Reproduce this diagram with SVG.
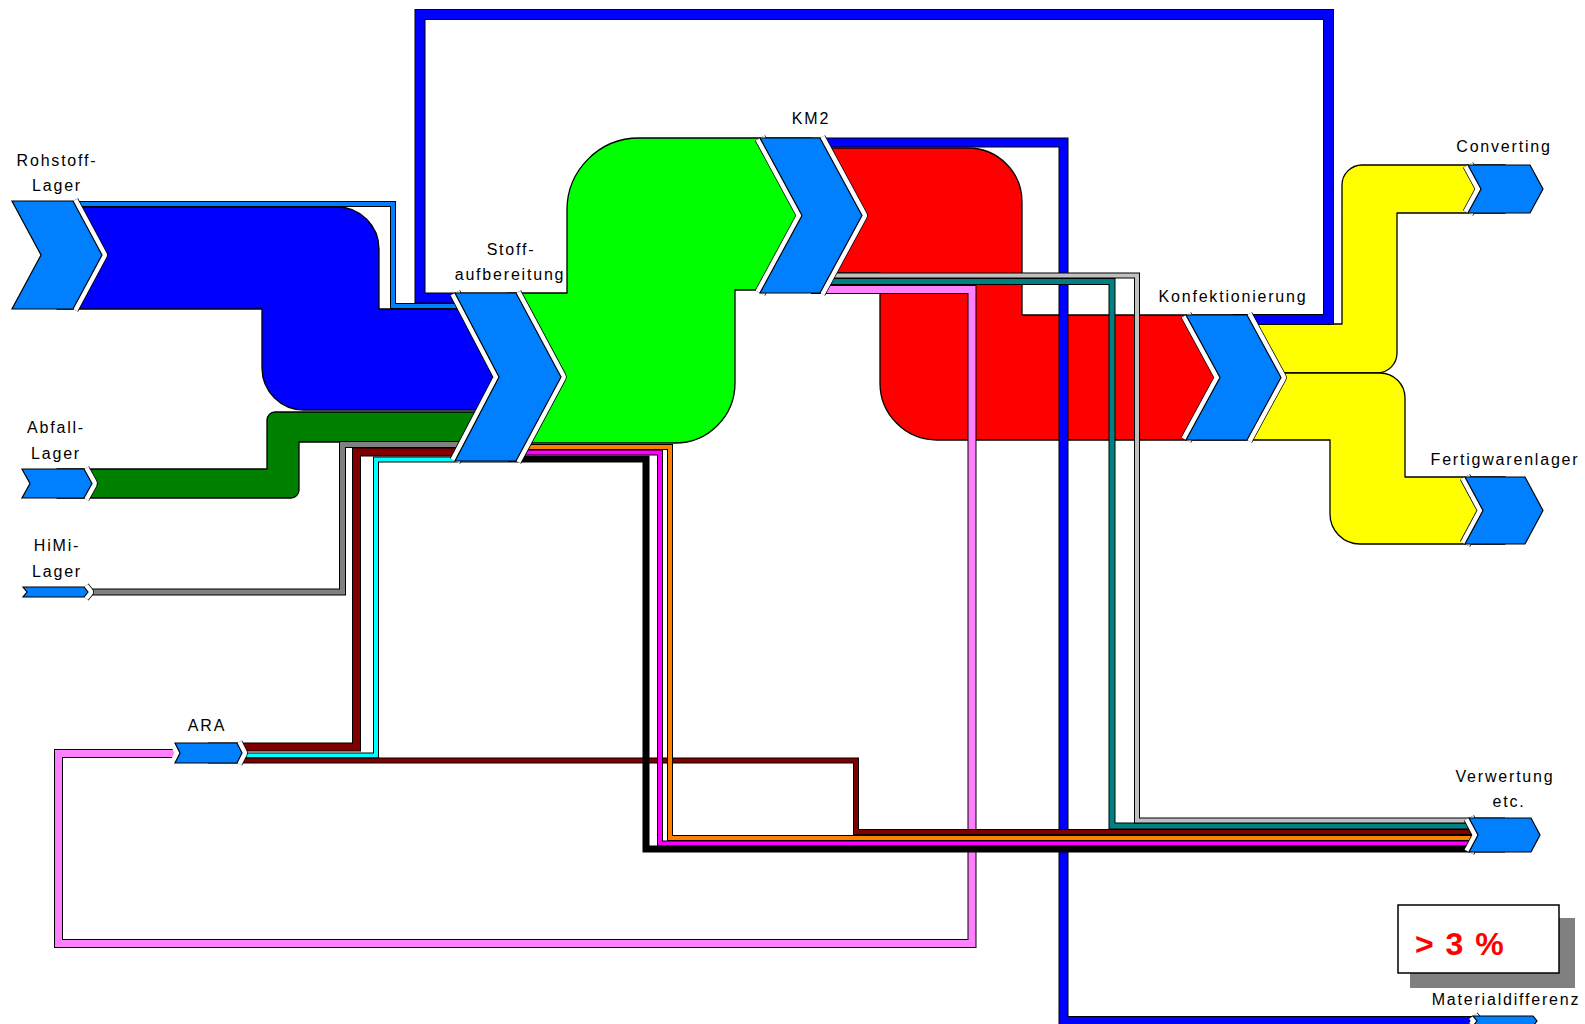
<svg xmlns="http://www.w3.org/2000/svg" xmlns:xlink="http://www.w3.org/1999/xlink" width="1585" height="1024" viewBox="0 0 1585 1024">
<style>
.flow{stroke:#000;stroke-width:1.3;stroke-linejoin:round}
.o{stroke:#000}
.gk{fill:none;stroke:#000;stroke-width:11.5;stroke-linejoin:round}
.gw{fill:none;stroke:#fff;stroke-width:10;stroke-linejoin:round}
.chev{fill:#0080FF;stroke:#000;stroke-width:1.2;stroke-linejoin:miter}
.lbl{font-family:"Liberation Sans",Arial,sans-serif;font-size:16px;letter-spacing:1.8px;fill:#000;text-anchor:middle}
</style>
<defs>
<path id="p-loop" fill="none" d="M1233,319.5 L1328.5,319.5 L1328.5,14.5 L420,14.5 L420,298 L508,298"/>
<path id="p-strip" fill="none" d="M57,204 L393,204 L393,306 L508,306"/>
<path id="p-himi" fill="none" d="M57,592 L342.5,592 L342.5,444.5 L508,444.5"/>
<path id="p-brown" fill="none" d="M208,747 L356.5,747 L356.5,452 L508,452"/>
<path id="p-cyan" fill="none" d="M208,755.5 L376,755.5 L376,459.5 L508,459.5"/>
<path id="p-loss" fill="none" d="M811,142.5 L1063.5,142.5 L1063.5,1021 L1505,1021"/>
<path id="p-pink" fill="none" d="M811,289.5 L972,289.5 L972,943.5 L58.5,943.5 L58.5,753.5 L208,753.5"/>
<path id="p-dbrown" fill="none" d="M208,760.5 L856,760.5 L856,832 L1505,832"/>
<path id="p-orange" fill="none" d="M508,447 L670,447 L670,838 L1505,838"/>
<path id="p-magenta" fill="none" d="M508,452.5 L660,452.5 L660,843.5 L1505,843.5"/>
<path id="p-black" fill="none" d="M508,459 L646,459 L646,849 L1505,849"/>
<path id="p-teal" fill="none" d="M811,281.5 L1112,281.5 L1112,826 L1505,826"/>
<path id="p-lgray" fill="none" d="M811,275.5 L1137,275.5 L1137,820.5 L1505,820.5"/>
</defs>
<rect width="1585" height="1024" fill="#fff"/>
<g id="connectors">
<path class="flow" fill="#0000FF" d="M57,207 L337,207 A42,42 0 0 1 379,249 L379,309 L508,309 L508,410 L304,410 A42,42 0 0 1 262,368 L262,309 L57,309 Z"/>
<path class="flow" fill="#008000" d="M57,469 L267,469 L267,420 A8,8 0 0 1 275,412 L508,412 L508,442 L299,442 L299,490 A8,8 0 0 1 291,498 L57,498 Z"/>
<path class="flow" fill="#00FF00" d="M508,293 L567,293 L567,210 A72,72 0 0 1 639,138 L811,138 L811,290 L735,290 L735,383 A60,60 0 0 1 675,443 L508,443 Z"/>
<path class="flow" fill="#FF0000" d="M811,148 L968,148 A54,54 0 0 1 1022,202 L1022,315 L1233,315 L1233,440 L937,440 A57,57 0 0 1 880,383 L880,273 L811,273 Z"/>
<path class="flow" fill="#FFFF00" d="M1233,324 L1342,324 L1342,185 A20,20 0 0 1 1362,165 L1505,165 L1505,213 L1397,213 L1397,353 A20,20 0 0 1 1377,373 L1233,373 Z"/>
<path class="flow" fill="#FFFF00" d="M1233,373 L1380,373 A25,25 0 0 1 1405,398 L1405,477 L1505,477 L1505,544 L1360,544 A30,30 0 0 1 1330,514 L1330,440 L1233,440 Z"/>
<use xlink:href="#p-loop" class="o" stroke-width="11"/><use xlink:href="#p-loop" stroke="#0000FF" stroke-width="9"/>
<use xlink:href="#p-strip" class="o" stroke-width="6"/><use xlink:href="#p-strip" stroke="#0080FF" stroke-width="4"/>
<use xlink:href="#p-himi" class="o" stroke-width="7"/><use xlink:href="#p-himi" stroke="#808080" stroke-width="5"/>
<use xlink:href="#p-brown" class="o" stroke-width="9"/><use xlink:href="#p-brown" stroke="#800000" stroke-width="7"/>
<use xlink:href="#p-cyan" class="o" stroke-width="6"/><use xlink:href="#p-cyan" stroke="#00FFFF" stroke-width="4"/>
<use xlink:href="#p-loss" class="o" stroke-width="10"/><use xlink:href="#p-loss" stroke="#0000FF" stroke-width="8"/>
<use xlink:href="#p-pink" class="o" stroke-width="9"/><use xlink:href="#p-pink" stroke="#FF80FF" stroke-width="7"/>
<use xlink:href="#p-dbrown" class="o" stroke-width="6"/><use xlink:href="#p-dbrown" stroke="#800000" stroke-width="4"/>
<use xlink:href="#p-orange" class="o" stroke-width="6"/><use xlink:href="#p-orange" stroke="#FF8000" stroke-width="4"/>
<use xlink:href="#p-magenta" class="o" stroke-width="6"/><use xlink:href="#p-magenta" stroke="#FF00FF" stroke-width="4"/>
<use xlink:href="#p-black" class="o" stroke-width="7"/><use xlink:href="#p-black" stroke="#000" stroke-width="5"/>
<use xlink:href="#p-teal" class="o" stroke-width="7"/><use xlink:href="#p-teal" stroke="#008080" stroke-width="5"/>
<use xlink:href="#p-lgray" class="o" stroke-width="6"/><use xlink:href="#p-lgray" stroke="#C0C0C0" stroke-width="4"/>
</g>
<g id="n-rohstoff">
<polyline class="gk" points="73,201 102,255 73,309"/><polyline class="gw" points="73,201 102,255 73,309"/>
<polygon class="chev" points="12,201 73,201 102,255 73,309 12,309 41,255"/>
<text class="lbl" x="57" y="166">Rohstoff-</text>
<text class="lbl" x="57" y="191">Lager</text>
</g>
<g id="n-abfall">
<polyline class="gk" points="84,469 92,483.5 84,498"/><polyline class="gw" points="84,469 92,483.5 84,498"/>
<polygon class="chev" points="22,469 84,469 92,483.5 84,498 22,498 30,483.5"/>
<text class="lbl" x="56" y="433">Abfall-</text>
<text class="lbl" x="56" y="459">Lager</text>
</g>
<g id="n-himi">
<polyline class="gk" points="84,587 88,592 84,597"/><polyline class="gw" points="84,587 88,592 84,597"/>
<polygon class="chev" points="23,587 84,587 88,592 84,597 23,597 27,592"/>
<text class="lbl" x="57" y="551">HiMi-</text>
<text class="lbl" x="57" y="577">Lager</text>
</g>
<g id="n-stoff">
<polyline class="gk" points="455,293 499,377 455,461"/><polyline class="gw" points="455,293 499,377 455,461"/>
<polyline class="gk" points="516,293 561,377 516,461"/><polyline class="gw" points="516,293 561,377 516,461"/>
<polygon class="chev" points="455,293 516,293 561,377 516,461 455,461 499,377"/>
<text class="lbl" x="511" y="255">Stoff-</text>
<text class="lbl" x="510" y="280">aufbereitung</text>
</g>
<g id="n-km2">
<polyline class="gk" points="760,138 802,215.5 760,293"/><polyline class="gw" points="760,138 802,215.5 760,293"/>
<polyline class="gk" points="820,138 862,215.5 820,293"/><polyline class="gw" points="820,138 862,215.5 820,293"/>
<polygon class="chev" points="760,138 820,138 862,215.5 820,293 760,293 802,215.5"/>
<text class="lbl" x="811" y="124">KM2</text>
</g>
<g id="n-konf">
<polyline class="gk" points="1186,315 1220,377.5 1186,440"/><polyline class="gw" points="1186,315 1220,377.5 1186,440"/>
<polyline class="gk" points="1247,315 1281,377.5 1247,440"/><polyline class="gw" points="1247,315 1281,377.5 1247,440"/>
<polygon class="chev" points="1186,315 1247,315 1281,377.5 1247,440 1186,440 1220,377.5"/>
<text class="lbl" x="1233" y="302">Konfektionierung</text>
</g>
<g id="n-converting">
<polyline class="gk" points="1468,165 1481,189 1468,213"/><polyline class="gw" points="1468,165 1481,189 1468,213"/>
<polygon class="chev" points="1468,165 1530,165 1543,189 1530,213 1468,213 1481,189"/>
<text class="lbl" x="1504" y="152">Converting</text>
</g>
<g id="n-fertig">
<polyline class="gk" points="1465,477 1483,510.5 1465,544"/><polyline class="gw" points="1465,477 1483,510.5 1465,544"/>
<polygon class="chev" points="1465,477 1525,477 1543,510.5 1525,544 1465,544 1483,510.5"/>
<text class="lbl" x="1505" y="465">Fertigwarenlager</text>
</g>
<g id="n-verwertung">
<polyline class="gk" points="1469,818 1478,835 1469,852"/><polyline class="gw" points="1469,818 1478,835 1469,852"/>
<polygon class="chev" points="1469,818 1531,818 1540,835 1531,852 1469,852 1478,835"/>
<text class="lbl" x="1505" y="782">Verwertung</text>
<text class="lbl" x="1509" y="807">etc.</text>
</g>
<g id="n-ara">
<polyline class="gw" points="175,743 180,753 175,763"/>
<polyline class="gk" points="237,743 242,753 237,763"/><polyline class="gw" points="237,743 242,753 237,763"/>
<polygon class="chev" points="175,743 237,743 242,753 237,763 175,763 180,753"/>
<text class="lbl" x="207" y="731">ARA</text>
</g>
<g id="n-material">
<rect x="1410" y="918" width="165" height="70" fill="#808080"/>
<rect x="1398" y="905" width="161" height="68" fill="#fff" stroke="#000" stroke-width="1.5"/>
<text x="1415" y="955" font-family="'Liberation Sans',Arial,sans-serif" font-size="32" font-weight="bold" fill="#FF0000" letter-spacing="1.5">&gt; 3 %</text>
<polyline class="gk" points="1473,1016 1477,1021 1473,1026"/><polyline class="gw" points="1473,1016 1477,1021 1473,1026"/>
<polygon class="chev" points="1473,1016 1533,1016 1537,1021 1533,1026 1473,1026 1477,1021"/>
<text class="lbl" x="1506" y="1005">Materialdifferenz</text>
</g>
</svg>
